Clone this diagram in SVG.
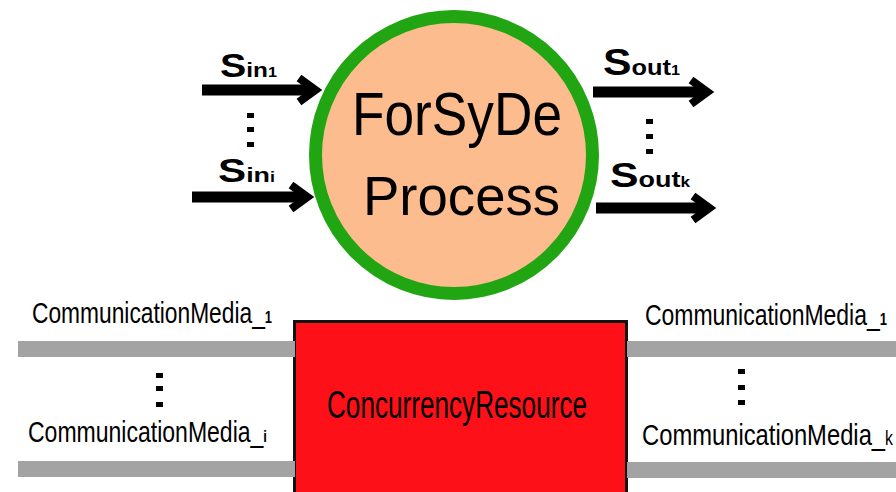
<svg xmlns="http://www.w3.org/2000/svg" width="896" height="492" viewBox="0 0 896 492">
  <style>
    text { font-family: "Liberation Sans", Arial, sans-serif; fill: #000; }
    .sig { font-weight: bold; }
    .media { font-size: 30px; }
    .dot { fill: #000; }
    .bar { fill: #A3A3A3; }
    .shaft { stroke: #000; stroke-width: 11; fill: none; }
  </style>
  <defs>
    <!-- open chevron head, tip sits 10px beyond the end of the shaft -->
    <marker id="chevron" markerUnits="userSpaceOnUse" viewBox="-30 -20 45 40" refX="0" refY="0"
            markerWidth="45" markerHeight="40" orient="auto" overflow="visible">
      <path d="M-14,-12 L2.5,0 L-14,12" fill="none" stroke="#000" stroke-width="8" stroke-linejoin="miter"/>
    </marker>
  </defs>

  <rect width="896" height="492" fill="#fff"/>

  <!-- process node -->
  <g id="forsyde-process">
    <circle cx="454" cy="155" r="138.5" fill="#FCBC8E" stroke="#22A512" stroke-width="13"/>
    <text x="352" y="135" font-size="61" textLength="210" lengthAdjust="spacingAndGlyphs">ForSyDe</text>
    <text x="363" y="215" font-size="56" textLength="197" lengthAdjust="spacingAndGlyphs">Process</text>
  </g>

  <!-- concurrency resource node -->
  <g id="concurrency-resource">
    <rect x="294.5" y="321.5" width="332" height="200" fill="#FE1018" stroke="#111" stroke-width="3"/>
    <text x="327" y="418" font-size="39" textLength="260" lengthAdjust="spacingAndGlyphs">ConcurrencyResource</text>
  </g>

  <!-- signal and media connectors -->
  <g id="connectors">
    <line class="shaft" x1="202" y1="90" x2="313" y2="90" marker-end="url(#chevron)"/>
    <line class="shaft" x1="192" y1="197" x2="305" y2="197" marker-end="url(#chevron)"/>
    <line class="shaft" x1="593" y1="92" x2="705" y2="92" marker-end="url(#chevron)"/>
    <line class="shaft" x1="596" y1="208" x2="707" y2="208" marker-end="url(#chevron)"/>

    <rect class="bar" x="18" y="341" width="277" height="16"/>
    <rect class="bar" x="18" y="461" width="277" height="16"/>
    <rect class="bar" x="627" y="341" width="269" height="16"/>
    <rect class="bar" x="627" y="462" width="269" height="16"/>
  </g>

  <!-- signal labels -->
  <g id="signal-labels">
    <text class="sig" x="220" y="77" textLength="57" lengthAdjust="spacingAndGlyphs"><tspan font-size="34">S</tspan><tspan font-size="21">in</tspan><tspan font-size="14">1</tspan></text>
    <text class="sig" x="218" y="182" textLength="57" lengthAdjust="spacingAndGlyphs"><tspan font-size="33">S</tspan><tspan font-size="21">in</tspan><tspan font-size="14">i</tspan></text>
    <text class="sig" x="603" y="75" textLength="77" lengthAdjust="spacingAndGlyphs"><tspan font-size="37">S</tspan><tspan font-size="22">out</tspan><tspan font-size="14">1</tspan></text>
    <text class="sig" x="610" y="187" textLength="80" lengthAdjust="spacingAndGlyphs"><tspan font-size="35">S</tspan><tspan font-size="22">out</tspan><tspan font-size="14">k</tspan></text>
  </g>

  <!-- media labels -->
  <g id="media-labels">
    <text class="media" x="32" y="323" textLength="240" lengthAdjust="spacingAndGlyphs">CommunicationMedia_<tspan font-size="17" font-weight="bold">1</tspan></text>
    <text class="media" x="28" y="442" textLength="239" lengthAdjust="spacingAndGlyphs">CommunicationMedia_<tspan font-size="17" font-weight="bold">i</tspan></text>
    <text class="media" x="645" y="325" textLength="242" lengthAdjust="spacingAndGlyphs">CommunicationMedia_<tspan font-size="17" font-weight="bold">1</tspan></text>
    <text class="media" x="642" y="445" textLength="251" lengthAdjust="spacingAndGlyphs">CommunicationMedia_<tspan font-size="20">k</tspan></text>
  </g>

  <!-- vertical ellipses -->
  <g id="ellipses">
    <rect class="dot" x="247" y="113" width="7" height="5"/>
    <rect class="dot" x="247" y="127" width="7" height="5"/>
    <rect class="dot" x="247" y="142" width="7" height="5"/>
    <rect class="dot" x="646" y="119" width="7" height="5"/>
    <rect class="dot" x="646" y="134" width="7" height="5"/>
    <rect class="dot" x="646" y="149" width="7" height="5"/>
    <rect class="dot" x="156" y="373" width="7" height="5"/>
    <rect class="dot" x="156" y="386" width="7" height="5"/>
    <rect class="dot" x="156" y="402" width="7" height="5"/>
    <rect class="dot" x="738" y="369" width="7" height="5"/>
    <rect class="dot" x="738" y="385" width="7" height="5"/>
    <rect class="dot" x="738" y="400" width="7" height="5"/>
  </g>
</svg>
